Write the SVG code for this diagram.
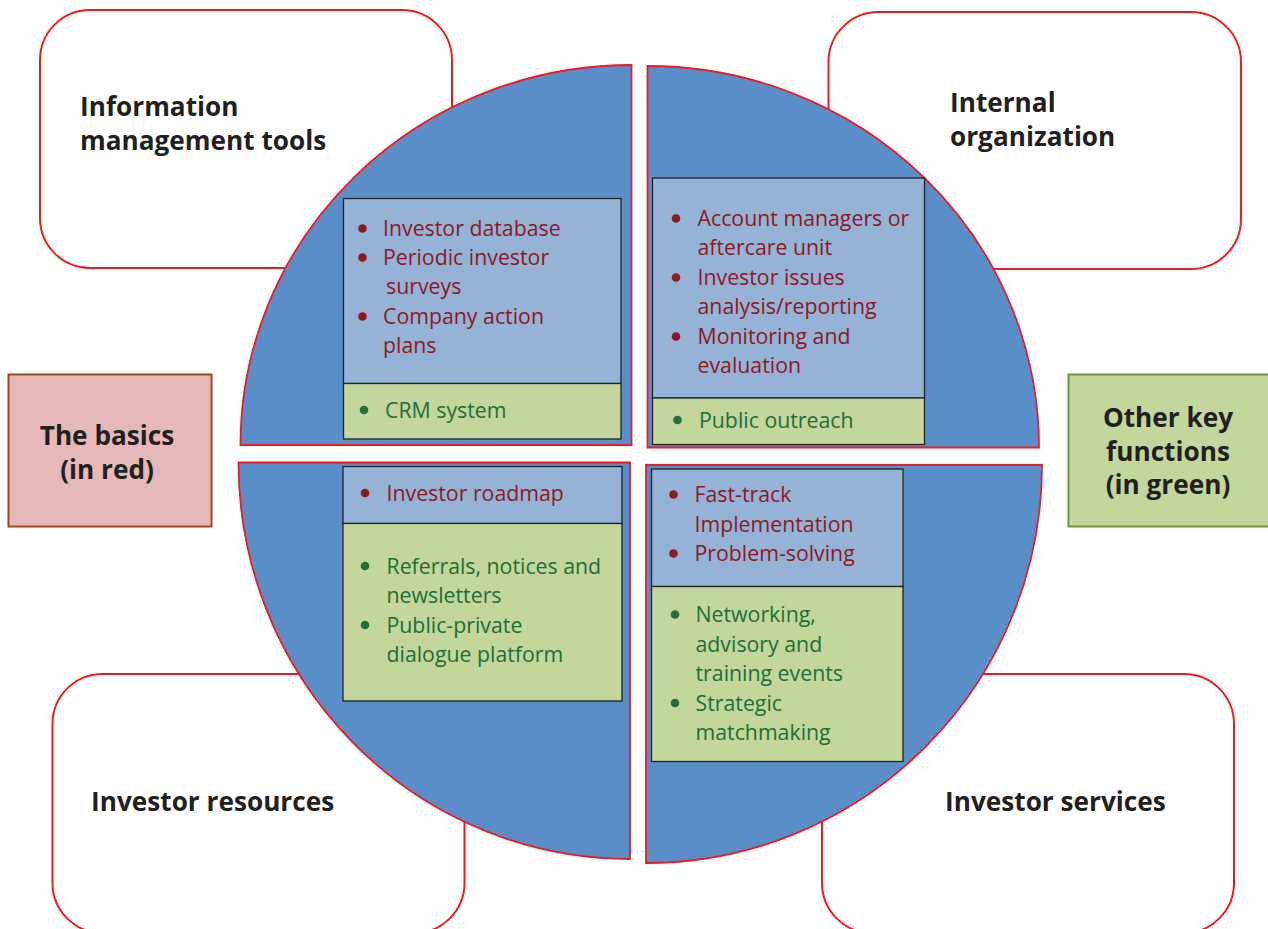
<svg xmlns="http://www.w3.org/2000/svg" width="1268" height="929" viewBox="0 0 1268 929">
<style>
.frame{fill:#fff;stroke:#ed1c24;stroke-width:2}
.quad{fill:#5a8ec9;stroke:#ed1c24;stroke-width:1.8}
.lb{fill:#95b3d7;stroke:#222;stroke-width:1.3}
.lg{fill:#c3d69b;stroke:#222;stroke-width:1.3}
.h{font-family:"Open Sans","Noto Sans",sans-serif;font-weight:700;font-size:26.2px;fill:#231f20}
.r{font-family:"Open Sans","Noto Sans",sans-serif;font-size:21.3px;fill:#8b1a1e}
.g{font-family:"Open Sans","Noto Sans",sans-serif;font-size:21.3px;fill:#216e37}
.br{fill:#8b1a1e}
.bg{fill:#216e37}
</style>
<g id="frame-info">
<rect class="frame" x="40" y="10" width="412" height="258" rx="50"/>
<text class="h" x="80" y="116">Information</text>
<text class="h" x="80" y="149.5">management tools</text>
</g>
<g id="frame-internal">
<rect class="frame" x="828.5" y="12" width="412.5" height="257" rx="50"/>
<text class="h" x="950" y="112">Internal</text>
<text class="h" x="950" y="145.5">organization</text>
</g>
<g id="frame-resources">
<rect class="frame" x="52.5" y="674" width="412" height="259" rx="50"/>
<text class="h" x="91" y="811">Investor resources</text>
</g>
<g id="frame-services">
<rect class="frame" x="822" y="674" width="412" height="259" rx="50"/>
<text class="h" x="945" y="811">Investor services</text>
</g>
<g id="legend-basics">
<rect x="8.5" y="374.5" width="203" height="152" fill="#e6b9b8" stroke="#984a1c" stroke-width="2"/>
<text class="h" x="107" y="445" text-anchor="middle">The basics</text>
<text class="h" x="107" y="479" text-anchor="middle">(in red)</text>
</g>
<g id="legend-other">
<rect x="1068.5" y="374.5" width="210" height="152" fill="#c3d69b" stroke="#77933c" stroke-width="2"/>
<text class="h" x="1168" y="427" text-anchor="middle">Other key</text>
<text class="h" x="1168" y="460.5" text-anchor="middle">functions</text>
<text class="h" x="1168" y="494" text-anchor="middle">(in green)</text>
</g>
<g id="quadrant-tl">
<path class="quad" d="M631.5 445 L240.5 445 A391 380 0 0 1 631.5 65 Z"/>
<rect class="lb" x="343.5" y="198.5" width="277.5" height="185"/>
<rect class="lg" x="343.5" y="383.5" width="277.5" height="55.5"/>
<circle class="br" cx="362.5" cy="228.5" r="4.3"/>
<text class="r" x="383" y="236">Investor database</text>
<circle class="br" cx="362.5" cy="257.5" r="4.3"/>
<text class="r" x="383" y="265">Periodic investor</text>
<text class="r" x="386" y="294">surveys</text>
<circle class="br" cx="362.5" cy="316.5" r="4.3"/>
<text class="r" x="383" y="324">Company action</text>
<text class="r" x="383" y="353">plans</text>
<circle class="bg" cx="364" cy="410" r="4.3"/>
<text class="g" x="385" y="417.5">CRM system</text>
</g>
<g id="quadrant-tr">
<path class="quad" d="M647.5 447.5 L647.5 66 A391.5 381.5 0 0 1 1039 447.5 Z"/>
<rect class="lb" x="652.5" y="178" width="272" height="220"/>
<rect class="lg" x="652.5" y="398" width="272" height="46.5"/>
<circle class="br" cx="676" cy="218.5" r="4.3"/>
<text class="r" x="697.5" y="226">Account managers or</text>
<text class="r" x="697.5" y="255">aftercare unit</text>
<circle class="br" cx="676" cy="277.5" r="4.3"/>
<text class="r" x="697.5" y="285">Investor issues</text>
<text class="r" x="697.5" y="314">analysis/reporting</text>
<circle class="br" cx="676" cy="336.5" r="4.3"/>
<text class="r" x="697.5" y="344">Monitoring and</text>
<text class="r" x="697.5" y="373">evaluation</text>
<circle class="bg" cx="677.5" cy="420" r="4.3"/>
<text class="g" x="699" y="427.5">Public outreach</text>
</g>
<g id="quadrant-bl">
<path class="quad" d="M630 462.5 L238.5 462.5 A391.5 396.5 0 0 0 630 859 Z"/>
<rect class="lb" x="343" y="466.5" width="279" height="57"/>
<rect class="lg" x="343" y="523.5" width="279" height="177.5"/>
<circle class="br" cx="365" cy="493" r="4.3"/>
<text class="r" x="386.5" y="500.5">Investor roadmap</text>
<circle class="bg" cx="365" cy="566" r="4.3"/>
<text class="g" x="386.5" y="573.5">Referrals, notices and</text>
<text class="g" x="386.5" y="602.5">newsletters</text>
<circle class="bg" cx="365" cy="625" r="4.3"/>
<text class="g" x="386.5" y="632.5">Public-private</text>
<text class="g" x="386.5" y="661.5">dialogue platform</text>
</g>
<g id="quadrant-br">
<path class="quad" d="M646 465 L1042 465 A396 398 0 0 1 646 863 Z"/>
<rect class="lb" x="651.5" y="469" width="251.5" height="117.5"/>
<rect class="lg" x="651.5" y="586.5" width="251.5" height="175"/>
<circle class="br" cx="673.5" cy="494.5" r="4.3"/>
<text class="r" x="694.5" y="501.5">Fast-track</text>
<text class="r" x="694.5" y="531.5">Implementation</text>
<circle class="br" cx="673.5" cy="553.5" r="4.3"/>
<text class="r" x="694.5" y="561">Problem-solving</text>
<circle class="bg" cx="675" cy="614.5" r="4.3"/>
<text class="g" x="695.5" y="621.5">Networking,</text>
<text class="g" x="695.5" y="651.5">advisory and</text>
<text class="g" x="695.5" y="681">training events</text>
<circle class="bg" cx="675" cy="703" r="4.3"/>
<text class="g" x="695.5" y="710.5">Strategic</text>
<text class="g" x="695.5" y="740">matchmaking</text>
</g>
</svg>
